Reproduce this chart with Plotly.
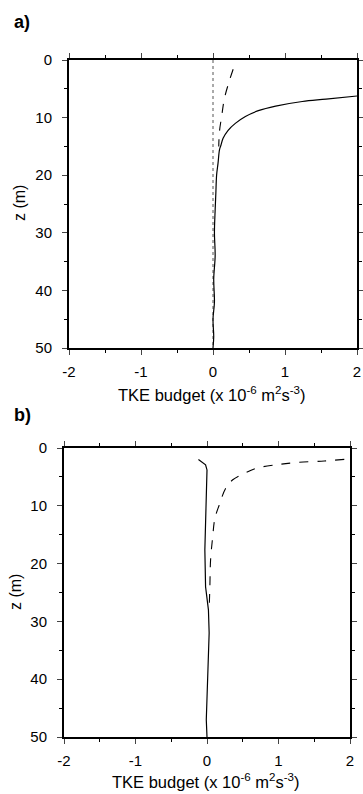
import plotly.graph_objects as go

# Panel a
a_solid_x = [2.0, 1.57, 1.24, 0.87, 0.63, 0.45, 0.31, 0.21, 0.14, 0.11, 0.09, 0.07, 0.05, 0.04, 0.03, 0.02, 0.03, 0.01, 0.02, 0.0, 0.01, 0.0]
a_solid_z = [6.25, 6.8, 7.2, 8.0, 8.8, 9.8, 11.0, 12.2, 13.6, 14.8, 15.6, 17.9, 20, 23, 26, 30, 34, 38, 42, 45, 48, 50]
a_dash_x = [0.28, 0.23, 0.16, 0.12, 0.09, 0.08]
a_dash_z = [1.6, 3.5, 6.6, 9.8, 12.4, 15.0]
a_zero_x = [0, 0]
a_zero_z = [0, 50]

# Panel b
b_solid_x = [-0.12, -0.02, 0.0, -0.02, -0.03, -0.02, 0.02, 0.03, 0.02, 0.01, 0.0, -0.01, 0.0]
b_solid_z = [2.0, 2.9, 3.8, 11.9, 17.6, 24, 28, 32, 36, 40, 44, 47, 50]
b_dash_x = [1.92, 1.64, 1.26, 0.97, 0.69, 0.52, 0.36, 0.26, 0.17, 0.11, 0.08, 0.05, 0.04, 0.03]
b_dash_z = [1.96, 2.25, 2.5, 2.9, 3.5, 4.4, 5.5, 7.0, 9.9, 12.2, 15.3, 19.4, 24, 28]

x_ticks = [-2, -1, 0, 1, 2]
x_tick_text = ["-2", "-1", "0", "1", "2"]
y_ticks = [0, 10, 20, 30, 40, 50]
x_title = "TKE budget (x 10<sup>-6</sup> m<sup>2</sup>s<sup>-3</sup>)"
y_title = "z (m)"

FONT = "Liberation Sans, Arial, sans-serif"
W = 363.0
H = 794.0


def px(v):
    return v / W


def py(v):
    return 1 - v / H


fig = go.Figure()
line_black = dict(color="black", width=1.2)

fig.add_trace(go.Scatter(x=a_zero_x, y=a_zero_z, mode="lines",
                         line=dict(color="#555", width=1, dash="dot"), xaxis="x", yaxis="y"))
fig.add_trace(go.Scatter(x=a_solid_x, y=a_solid_z, mode="lines", line_shape="spline",
                         line=line_black, xaxis="x", yaxis="y"))
fig.add_trace(go.Scatter(x=a_dash_x, y=a_dash_z, mode="lines", line_shape="spline",
                         line=dict(color="black", width=1.1, dash="dash"), xaxis="x", yaxis="y"))
fig.add_trace(go.Scatter(x=b_solid_x, y=b_solid_z, mode="lines",
                         line=line_black, xaxis="x2", yaxis="y2"))
fig.add_trace(go.Scatter(x=b_dash_x, y=b_dash_z, mode="lines", line_shape="spline",
                         line=dict(color="black", width=1.1, dash="dash"), xaxis="x2", yaxis="y2"))

xcommon = dict(range=[-2, 2], tickvals=x_ticks, ticktext=x_tick_text, ticks="outside", ticklen=5, tickwidth=1.3,
               showline=True, linewidth=2, linecolor="black", mirror="allticks", automargin=False,
               showgrid=False, zeroline=False, ticklabelstandoff=4,
               tickfont=dict(size=15, color="black", family=FONT),
               minor=dict(dtick=0.5, tick0=0, ticks="outside", ticklen=3, tickcolor="black", showgrid=False))
ycommon = dict(range=[50, 0], tickvals=y_ticks, ticks="outside", ticklen=5, tickwidth=1.3,
               showline=True, linewidth=2, linecolor="black", mirror="allticks", automargin=False,
               showgrid=False, zeroline=False, ticklabelstandoff=7,
               tickfont=dict(size=15, color="black", family=FONT),
               minor=dict(dtick=5, tick0=0, ticks="outside", ticklen=3, tickcolor="black", showgrid=False))

fig.update_layout(
    width=int(W), height=int(H), margin=dict(l=0, r=0, t=0, b=0, autoexpand=False),
    paper_bgcolor="white", plot_bgcolor="white", showlegend=False,
    font=dict(family=FONT, color="black", size=14),
    xaxis=dict(xcommon, domain=[px(69), px(357)], anchor="y"),
    yaxis=dict(ycommon, domain=[py(348), py(60)], anchor="x"),
    xaxis2=dict(xcommon, domain=[px(64), px(350)], anchor="y2"),
    yaxis2=dict(ycommon, domain=[py(737), py(448)], anchor="x2"),
)

anns = [
    dict(text="<b>a)</b>", x=12, y=22, xanchor="left", size=18),
    dict(text="<b>b)</b>", x=12, y=415, xanchor="left", size=18),
    dict(text=x_title, x=212, y=394, xanchor="center", size=16.5),
    dict(text=x_title, x=206, y=781, xanchor="center", size=16.5),
    dict(text=y_title, x=19, y=203, xanchor="center", textangle=-90, size=16),
    dict(text=y_title, x=15, y=592, xanchor="center", textangle=-90, size=16),
]
for a in anns:
    fig.add_annotation(text=a["text"], x=px(a["x"]), y=py(a["y"]), xref="paper", yref="paper",
                       xanchor=a["xanchor"], yanchor="middle", showarrow=False,
                       textangle=a.get("textangle", 0),
                       font=dict(size=a["size"], family=FONT, color="black"))

fig.write_html("out.html", config={"displayModeBar": False},
               post_script="document.body.style.margin='0';document.body.style.overflow='hidden';")
